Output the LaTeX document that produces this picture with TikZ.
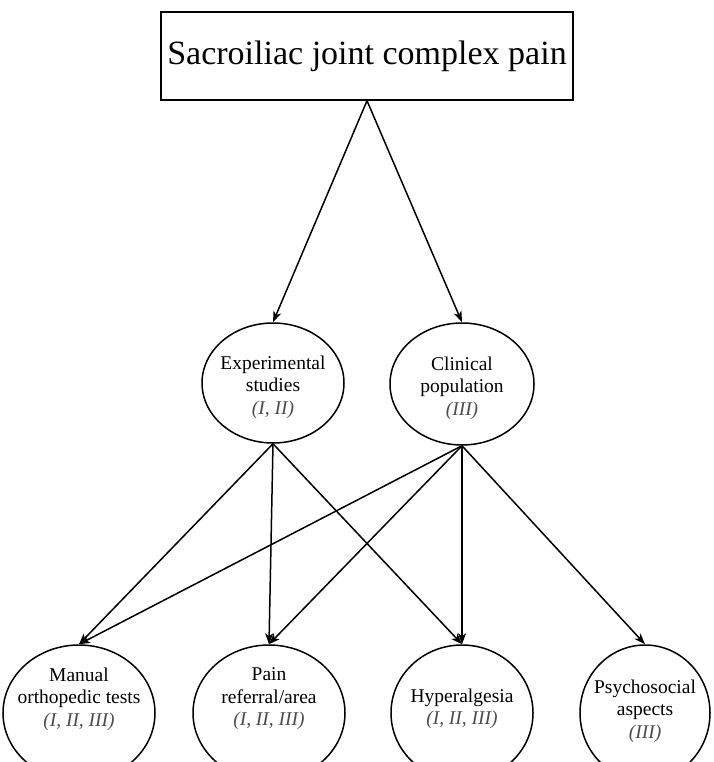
\documentclass[tikz,border=0pt]{standalone}
\usepackage{fontspec}
\setmainfont{Liberation Serif}
\usetikzlibrary{arrows.meta,shapes.geometric}
\definecolor{refgray}{gray}{0.3}
\newcommand{\refNo}[1]{{\itshape\color{refgray}#1}}
\begin{document}
\begin{tikzpicture}[
    x=1pt,y=-1pt,
    sjBox/.style={rectangle,draw=black,line width=1.5pt,minimum width=412pt,minimum height=88pt,font=\fontsize{34}{40}\selectfont},
    sjEll/.style={ellipse,draw=black,line width=1.5pt,inner sep=0pt},
    sjTxt/.style={align=center,font=\fontsize{19.5}{22.5}\selectfont},
    sjArrow/.style={-{Stealth[length=11pt,width=8pt,inset=3pt]},line width=1.5pt},
]
\useasboundingbox (0,0) rectangle (713,762);
\node[sjBox] (sjPain) at (367,56) {Sacroiliac joint complex pain};
% middle row
\node[sjEll,minimum width=142pt,minimum height=120pt,
      label={[sjTxt,yshift=-4pt]center:Experimental\\studies\\\refNo{(I, II)}}] (sjExp) at (273,383) {};
\node[sjEll,minimum width=144pt,minimum height=122pt,
      label={[sjTxt,yshift=-4pt]center:Clinical\\population\\\refNo{(III)}}] (sjClin) at (462,384) {};
% bottom row
\node[sjEll,minimum width=152pt,minimum height=136pt,
      label={[sjTxt,yshift=14pt]center:Manual\\orthopedic tests\\\refNo{(I, II, III)}}] (sjManual) at (79,713) {};
\node[sjEll,minimum width=152pt,minimum height=136pt,
      label={[sjTxt,yshift=14pt]center:Pain\\referral/area\\\refNo{(I, II, III)}}] (sjArea) at (269,713) {};
\node[sjEll,minimum width=142pt,minimum height=136pt,
      label={[sjTxt,yshift=4pt]center:Hyperalgesia\\\refNo{(I, II, III)}}] (sjHyper) at (462,713) {};
\node[sjEll,minimum width=130pt,minimum height=136pt,
      label={[sjTxt,yshift=2pt]center:Psychosocial\\aspects\\\refNo{(III)}}] (sjPsy) at (645,713) {};
% arrows
\draw[sjArrow] (sjPain.south) -- (sjExp.north);
\draw[sjArrow] (sjPain.south) -- (sjClin.north);
\foreach \sjTo in {sjManual,sjArea,sjHyper}
    \draw[sjArrow] (sjExp.south) -- (\sjTo.north);
\foreach \sjTo in {sjManual,sjArea,sjHyper,sjPsy}
    \draw[sjArrow] (sjClin.south) -- (\sjTo.north);
\end{tikzpicture}
\end{document}
